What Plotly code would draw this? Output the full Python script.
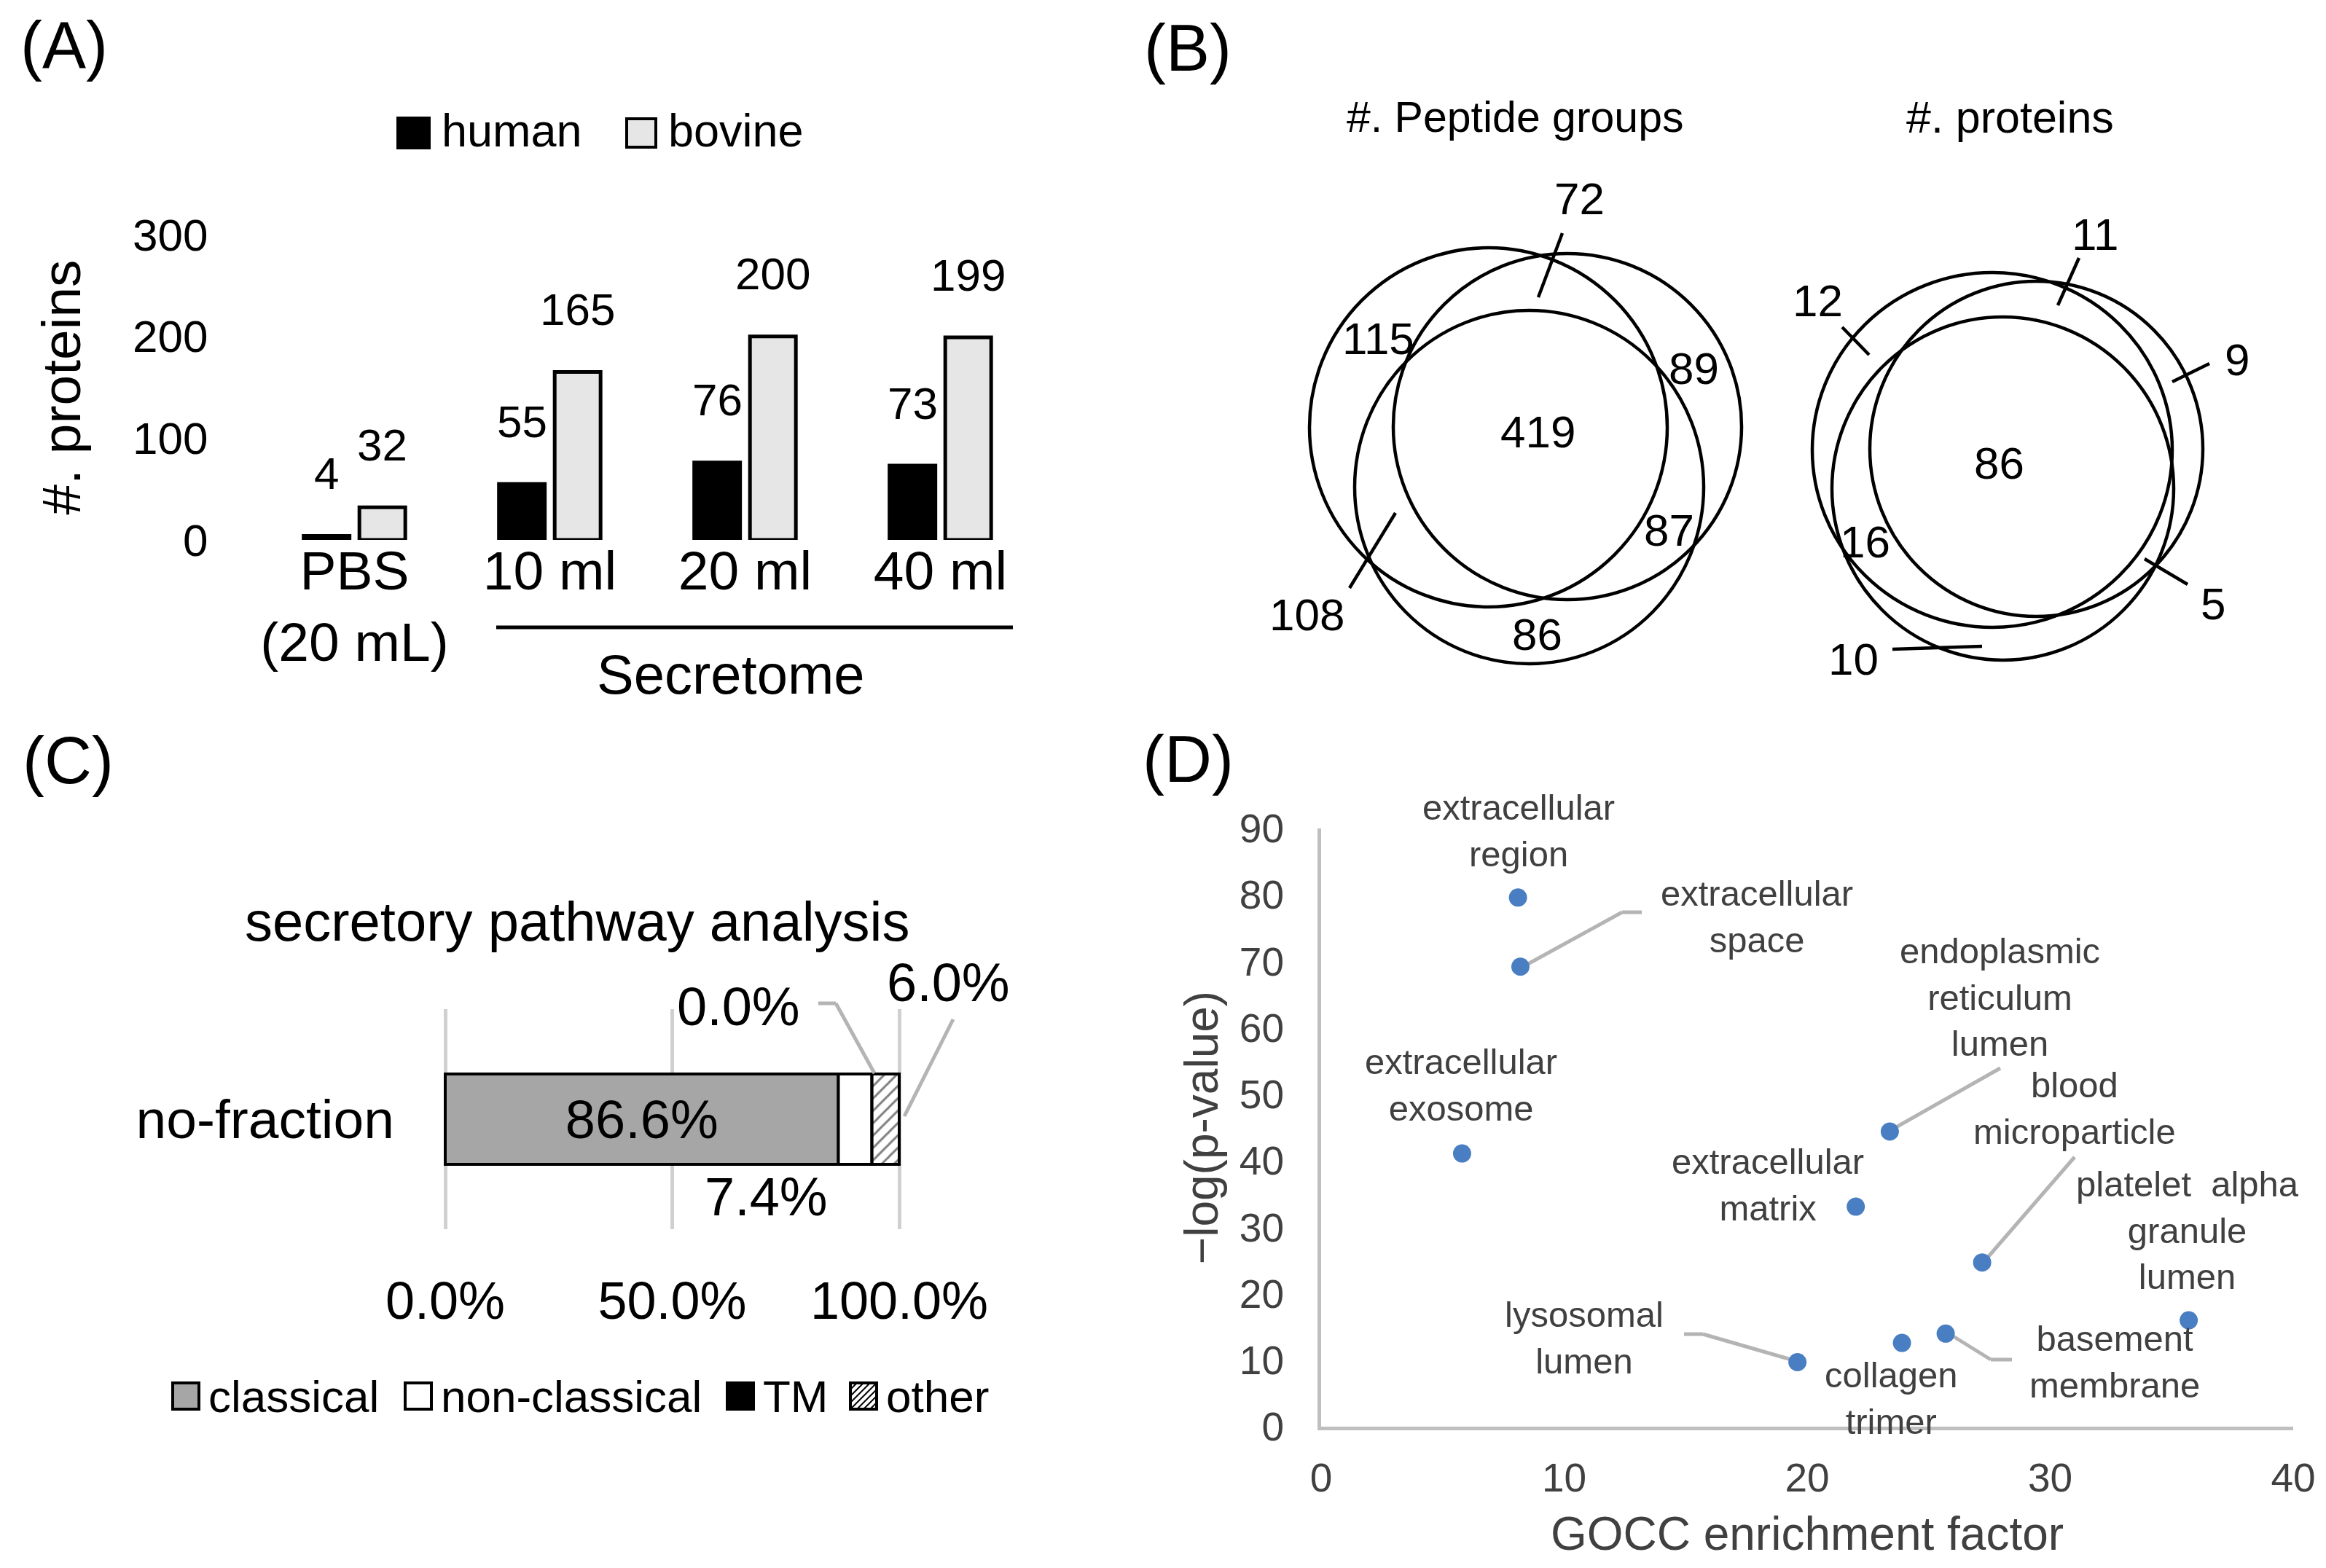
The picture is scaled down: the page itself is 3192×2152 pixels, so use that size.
import plotly.graph_objects as go

W, H = 3192, 2152
FONT = "Liberation Sans, Arial, Helvetica, sans-serif"

# ---------------- data ----------------
# (A) number of proteins
a_categories = ["PBS<br>(20 mL)", "10 ml", "20 ml", "40 ml"]
a_human = [4, 55, 76, 73]
a_bovine = [32, 165, 200, 199]

# (B) Venn counts (A only, AB, B only, ABC, BC, AC, C only)
b_pep_counts = [115, 72, 89, 419, 87, 108, 86]
b_prot_counts = [12, 11, 9, 86, 5, 16, 10]

# (C) secretory pathway
c_row = ["no-fraction"]
c_names = ["classical", "non-classical", "TM", "other"]
c_values = [0.866, 0.074, 0.0, 0.060]

# (D) GOCC enrichment
d_terms = ["extracellular<br>region", "extracellular<br>space", "extracellular<br>exosome",
           "endoplasmic<br>reticulum<br>lumen", "extracellular<br>matrix", "blood<br>microparticle",
           "platelet  alpha<br>granule<br>lumen", "basement<br>membrane", "collagen<br>trimer",
           "lysosomal<br>lumen"]
d_enrich = [8.1, 8.2, 5.8, 23.4, 22.0, 27.2, 35.7, 25.7, 23.9, 19.6]
d_logp = [79.6, 69.2, 41.1, 44.4, 33.1, 24.7, 16.0, 14.0, 12.6, 9.7]

# ---------------- layout geometry (pixels) ----------------
def px(X):
    return X / W

def py(Y):
    return 1 - Y / H

# Venn circle geometry, pixel boxes (x0, y0, x1, y1)
b_pep_circles = [(1789, 332, 2280, 825), (1904, 340, 2382, 815), (1851, 418, 2330, 903)]
b_prot_circles = [(2479, 366, 2973, 853), (2558, 378, 3015, 838), (2506, 427, 2975, 898)]
b_pep_label_pos = [(1883, 456), (2159, 264), (2316, 497), (2102, 584), (2282, 719), (1785, 835), (2101, 862)]
b_prot_label_pos = [(2486, 405), (2867, 313), (3062, 486), (2735, 627), (3029, 820), (2551, 735), (2535, 896)]
b_leaders = [((2136, 312), (2103, 400)), ((1907, 696), (1844, 799)),
             ((2845, 346), (2816, 411)), ((2520, 441), (2557, 479)),
             ((3024, 491), (2973, 516)), ((2935, 759), (2994, 794)),
             ((2589, 883), (2712, 879))]

d_label_pos = [(2076, 1132), (2403, 1250), (1997, 1481), (2736, 1360), (2418, 1618),
               (2839, 1513), (2994, 1680), (2894, 1861), (2587, 1911), (2166, 1828)]
d_leaders = [[(2087, 1316), (2218, 1244), (2245, 1244)],
             [(2587, 1543), (2737, 1458)],
             [(2716, 1722), (2839, 1580)],
             [(2457, 1860), (2329, 1823), (2303, 1823)],
             [(2666, 1822), (2724, 1858), (2753, 1858)]]

fig = go.Figure()

# ---------------- (A) bars ----------------
BW = 0.235
fig.add_trace(go.Bar(x=a_categories, y=a_human, name="human", width=BW, offset=-0.2605,
                     marker=dict(color="black", line=dict(color="black", width=5)),
                     xaxis="x", yaxis="y", showlegend=False))
fig.add_trace(go.Bar(x=a_categories, y=a_bovine, name="bovine", width=BW, offset=0.025,
                     marker=dict(color="#E6E6E6", line=dict(color="black", width=5)),
                     xaxis="x", yaxis="y", showlegend=False))

annotations = []


def note(X, Y, text, size, color="black", xanchor="center", **kw):
    annotations.append(dict(x=px(X), y=py(Y), xref="paper", yref="paper", text=text, showarrow=False,
                            xanchor=xanchor, yanchor="middle",
                            font=dict(size=size, color=color, family=FONT), **kw))


for i, (h, b) in enumerate(zip(a_human, a_bovine)):
    annotations.append(dict(x=i - 0.143, y=h, xref="x", yref="y", text=str(h), showarrow=False,
                            xanchor="center", yanchor="middle",
                            yshift=86, font=dict(size=62, color="black", family=FONT)))
    annotations.append(dict(x=i + 0.1425, y=b, xref="x", yref="y", text=str(b), showarrow=False,
                            xanchor="center", yanchor="middle",
                            yshift=86, font=dict(size=62, color="black", family=FONT)))

# ---------------- (C) stacked bar ----------------
c_colors = ["#A6A6A6", "white", "black", "white"]
base = 0.0
for name, v, col in zip(c_names, c_values, c_colors):
    mk = dict(color=col, line=dict(color="black", width=4))
    if name == "other":
        mk["pattern"] = dict(shape="/", fgcolor="black", bgcolor="white", size=12, solidity=0.25)
    fig.add_trace(go.Bar(y=c_row, x=[v], base=[base], orientation="h", name=name, width=0.41, offset=-0.205,
                         marker=mk,
                         text=["86.6%"] if name == "classical" else None,
                         textposition="inside", insidetextanchor="middle",
                         textfont=dict(size=74, color="black", family=FONT),
                         xaxis="x3", yaxis="y3", showlegend=False))
    base += v

# ---------------- (D) scatter ----------------
fig.add_trace(go.Scatter(x=d_enrich, y=d_logp, mode="markers", text=d_terms,
                         marker=dict(size=25, color="#4A7EC2"), xaxis="x4", yaxis="y4", showlegend=False))

shapes = []


def seg(p0, p1, color, width, layer="above"):
    shapes.append(dict(type="line", xref="paper", yref="paper", x0=px(p0[0]), y0=py(p0[1]),
                       x1=px(p1[0]), y1=py(p1[1]), line=dict(color=color, width=width), layer=layer))


# leader lines D
for pts in d_leaders:
    for p0, p1 in zip(pts[:-1], pts[1:]):
        seg(p0, p1, "#B4B4B4", 5, "below")
for term, (X, Y) in zip(d_terms, d_label_pos):
    note(X, Y, term, 49, color="#404040", align="center")

# ---------------- (B) Venn ----------------
for (x0, y0, x1, y1) in b_pep_circles + b_prot_circles:
    shapes.append(dict(type="circle", xref="paper", yref="paper", x0=px(x0), x1=px(x1), y0=py(y1), y1=py(y0),
                       line=dict(color="black", width=4.5)))
for (p0, p1) in b_leaders:
    seg(p0, p1, "black", 4.5)
for cnt, (X, Y) in zip(b_pep_counts + b_prot_counts, b_pep_label_pos + b_prot_label_pos):
    note(X, Y, str(cnt), 62)
note(2071, 153, "#. Peptide groups", 59)
note(2750, 153, "#. proteins", 61)

# ---------------- (A) decorations ----------------
seg((673, 853), (1382, 853), "black", 5)
note(995, 918, "Secretome", 76)
# legend A
shapes.append(dict(type="rect", xref="paper", yref="paper", x0=px(538), x1=px(581), y0=py(195), y1=py(154),
                   fillcolor="black", line=dict(color="black", width=4)))
shapes.append(dict(type="rect", xref="paper", yref="paper", x0=px(852), x1=px(892), y0=py(194), y1=py(155),
                   fillcolor="#E6E6E6", line=dict(color="black", width=4)))
note(596, 171, "human", 63, xanchor="left")
note(907, 171, "bovine", 63, xanchor="left")

# ---------------- (C) decorations ----------------
note(784, 1256, "secretory pathway analysis", 76)
note(1043, 1634, "7.4%", 74)
note(1005, 1373, "0.0%", 74)
note(1293, 1340, "6.0%", 74)
for pts in [[(1115, 1369), (1139, 1369), (1192, 1465)], [(1300, 1391), (1233, 1524)]]:
    for p0, p1 in zip(pts[:-1], pts[1:]):
        seg(p0, p1, "#B4B4B4", 5)
# legend C
c_leg = [("classical", 229, "#A6A6A6"), ("non-classical", 548, "white"), ("TM", 990, "black"), ("other", 1159, "white")]
for name, X, col in c_leg:
    shapes.append(dict(type="rect", xref="paper", yref="paper", x0=px(X), x1=px(X + 36), y0=py(1926), y1=py(1890),
                       fillcolor=col, line=dict(color="black", width=4)))
    note(X + 47, 1908, name, 62, xanchor="left")
# hatch in "other" legend box
hx0, hy0 = 1159, 1890
for k in range(1, 5):
    d = k * 9
    seg((hx0, hy0 + d), (hx0 + d, hy0), "black", 2)
    seg((hx0 + d, hy0 + 36), (hx0 + 36, hy0 + d), "black", 2)

# panel letters
for txt, X, Y in [("(A)", 80, 54), ("(B)", 1622, 58), ("(C)", 85, 1036), ("(D)", 1622, 1034)]:
    note(X, Y, txt, 90)

c_pad = 0.005
c_x0, c_x1 = 603, 1226
c_scale = c_x1 - c_x0

fig.update_layout(
    width=W, height=H, margin=dict(l=0, r=0, t=0, b=0, pad=0, autoexpand=False),
    paper_bgcolor="white", plot_bgcolor="rgba(0,0,0,0)",
    barmode="overlay", font=dict(family=FONT, color="black"),
    showlegend=False,
    xaxis=dict(domain=[px(344.5), px(1416.5)], anchor="y", type="category", range=[-0.5, 3.5],
               showline=False, showgrid=False, zeroline=False, ticks="", automargin=False,
               tickfont=dict(size=75, color="black"), ticklabelstandoff=-8),
    yaxis=dict(domain=[py(733), py(314)], anchor="x", range=[0, 300], dtick=100, automargin=False,
               showline=False, showgrid=False, zeroline=False, ticks="",
               tickfont=dict(size=62, color="black"), ticklabelstandoff=66,
               title=dict(text="#. proteins", font=dict(size=75, color="black"), standoff=46)),
    xaxis3=dict(domain=[px(c_x0 - c_pad * c_scale), px(c_x1 + c_pad * c_scale)], anchor="y3",
                range=[-c_pad, 1 + c_pad], tickvals=[0, 0.5, 1], tickformat=".1%",
                showline=False, showgrid=True, gridcolor="#D0D0D0", gridwidth=5, zeroline=False, ticks="",
                automargin=False, tickfont=dict(size=72, color="black"), ticklabelstandoff=50),
    yaxis3=dict(domain=[py(1679), py(1377)], anchor="x3", type="category", range=[-0.5, 0.5],
                showline=False, showgrid=False, zeroline=False, ticks="", automargin=False,
                tickfont=dict(size=75, color="black"), ticklabelstandoff=66),
    xaxis4=dict(domain=[px(1805), px(3139)], anchor="y4", range=[0, 40], dtick=10, automargin=False,
                showline=True, linecolor="#BFBFBF", linewidth=5, showgrid=False, zeroline=False, ticks="",
                tickfont=dict(size=55, color="#404040"), ticklabelstandoff=18,
                title=dict(text="GOCC enrichment factor", font=dict(size=64, color="#404040"), standoff=26)),
    yaxis4=dict(domain=[py(1950), py(1129)], anchor="x4", range=[0, 90], dtick=10, automargin=False,
                showline=True, linecolor="#BFBFBF", linewidth=5, showgrid=False, zeroline=False, ticks="",
                tickfont=dict(size=55, color="#404040"), ticklabelstandoff=35,
                title=dict(text="−log(p-value)", font=dict(size=64, color="#404040"), standoff=10)),
    shapes=shapes, annotations=annotations,
)

fig.write_html("out.html")
